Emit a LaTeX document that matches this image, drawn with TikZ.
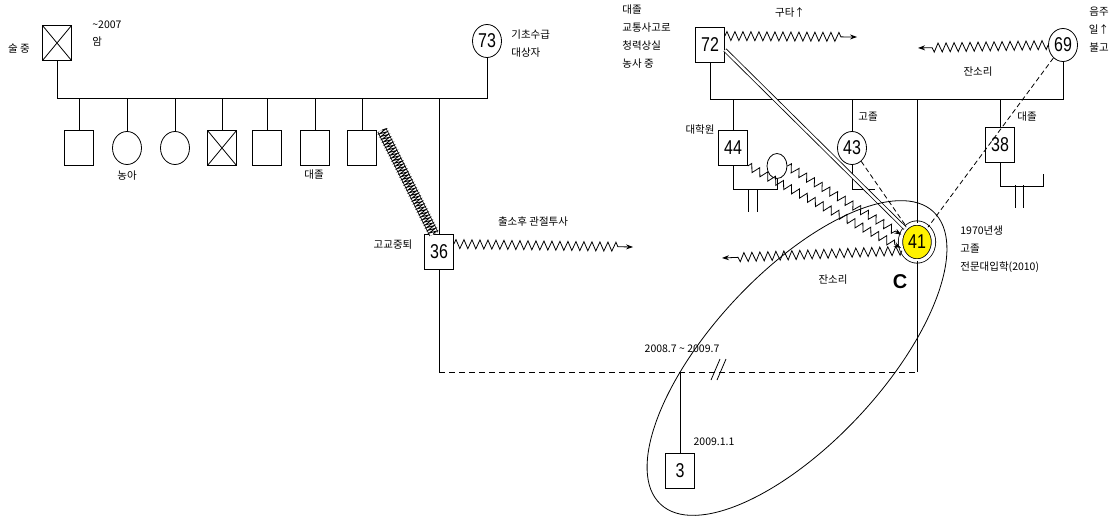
\documentclass[tikz,border=0pt]{standalone}
\usepackage{fontspec}
\setmainfont{Liberation Sans}
\newfontfamily\kr{Noto Sans CJK KR}
\newfontfamily\numfont[FakeStretch=0.8]{Liberation Sans}
\usetikzlibrary{positioning,arrows.meta,shapes.geometric,decorations.pathmorphing}

\tikzset{
  male/.style={draw, rectangle, fill=white, minimum width=29pt, minimum height=35pt, inner sep=0pt,
    font=\numfont\fontsize{20}{20}\selectfont},
  female/.style={draw, ellipse, fill=white, minimum width=29pt, minimum height=33pt, inner sep=0pt,
    font=\numfont\fontsize{20}{20}\selectfont},
  dead/.style={male, path picture={
    \draw (path picture bounding box.north west) -- (path picture bounding box.south east)
          (path picture bounding box.south west) -- (path picture bounding box.north east);}},
  index/.style={female, fill=yellow, double, double distance=3.5pt, minimum width=33pt, minimum height=38pt},
  lbl/.style={font=\kr\fontsize{10.5}{18}\selectfont, inner sep=0pt, align=left},
  wave/.style={decorate, decoration={zigzag, amplitude=4.5pt, segment length=8pt, post length=14pt},
    -{Stealth[length=7pt,width=5pt]}},
  band/.style={decorate, decoration={zigzag, amplitude=4pt, segment length=3pt}}
}

\begin{document}
\begin{tikzpicture}[x=1pt, y=-1pt, line width=0.8pt]
\useasboundingbox (0,0) rectangle (1116,517);

% husband's family
\node[dead] (gf) at (57,43) {};
\node[female] (gm) at (487,41) {73};
\coordinate (sib) at (0,98);
\draw (gf.south) -- (gf.south |- sib) -- (gm.south |- sib) -- (gm.south);
\foreach \x/\s [count=\i] in {79/male,127/female,175/female,222/dead,267/male,315/male,362/male}
  \node[\s] (c\i) at (\x,148) {};
\foreach \i in {1,...,7}
  \draw (c\i.north) -- (c\i.north |- sib);
\node[male] (p36) at (439,252) {36};
\draw (p36.north) -- (p36.north |- sib);
\draw[double distance=8pt] ([xshift=5pt]c7.north east) -- ([xshift=-5pt]p36.north);
\draw[band] ([xshift=5pt]c7.north east) -- ([xshift=-5pt]p36.north);
\coordinate (a36) at (633,247);
\draw[wave] ([yshift=8pt]p36.east) -- (a36);

\node[lbl] at (19,49) {술 중};
\node[lbl, anchor=west] at (92,25) {\textasciitilde2007};
\node[lbl, anchor=west] at (92,42) {암};
\node[lbl, anchor=west] at (511,35) {기초수급};
\node[lbl, anchor=west] at (511,53) {대상자};
\node[lbl] at (127,176) {농아};
\node[lbl] at (314,175) {대졸};
\node[lbl] at (393,245) {고교중퇴};
\node[lbl] at (533,222) {출소후 관절투사};

% wife's family
\node[male] (p72) at (710,45) {72};
\node[female] (p69) at (1063,45) {69};
\coordinate (fam) at (0,99);
\draw (p72.south) -- (p72.south |- fam) -- (p69.south |- fam) -- (p69.south);
\node[male] (p44) at (733,148) {44};
\node[female, minimum width=20pt, minimum height=25pt] (s44) at (777,166) {};
\node[female] (p43) at (852,148) {43};
\node[male] (p38) at (1000,145) {38};
\node[index] (p41) at (917,242) {41};
\foreach \n in {p44,p43,p38}
  \draw (\n.north) -- (\n.north |- fam);
\draw (p41.north |- fam) -- (p41.north);

\coordinate (k44) at (0,189);
\draw (p44.south) -- (p44.south |- k44) -- (s44.south |- k44) -- (s44.south);
\foreach \x in {748,757}
  \draw (\x,189) -- (\x,212);
\draw (p43.south) -- (p43.south |- k44) -- ++(23,0);
\draw (p38.south) -- ++(0,23) -- ++(43,0) -- ++(0,-12);
\foreach \x in {1015,1023}
  \draw (\x,185) -- (\x,208);

% relations
\draw[double, double distance=2.5pt] ([yshift=-5pt]p72.east) -- (p41.north west);
\draw[dash pattern=on 5pt off 3pt] (p43) -- (p41);
\draw[dash pattern=on 5pt off 3pt] (p69) -- (p41);
\draw[wave, decoration={amplitude=4pt, segment length=9pt, post length=6pt}] (p44.south east) -- (p41.200);
\draw[wave, decoration={amplitude=4pt, segment length=9pt, post length=6pt}] (s44.east) -- (p41.155);
\coordinate (a72) at (857,37);
\draw[wave] ([yshift=9pt]p72.east) -- (a72);
\coordinate (a69) at (918,48);
\draw[wave] (p69.west) -- (a69);
\coordinate (a41) at (722,258);
\draw[wave] (p41.210) -- (a41);

% marriage and child
\coordinate (m36) at (439,372);
\coordinate (m41) at (917,372);
\draw (p36.south) -- (m36);
\draw[dash pattern=on 6pt off 4pt] (m36) -- (m41);
\draw (p41.south) -- (m41);
\coordinate (dv) at (719,370);
\draw ([xshift=-8pt,yshift=-10pt]dv) -- ([xshift=1pt,yshift=11pt]dv);
\draw ([xshift=-2pt,yshift=-10pt]dv) -- ([xshift=7pt,yshift=11pt]dv);
\coordinate (ch3) at (680,372);
\node[male] (p3) at (680,471) {3};
\draw (ch3) -- (p3.north);
\draw[rotate around={47:(797,358)}] (797,358) ellipse (200 and 85);

\node[lbl, anchor=north west] at (622,4) {대졸\\교통사고로\\청력상실\\농사 중};
\node[lbl] at (790,12) {구타↑};
\node[lbl] at (978,72) {잔소리};
\node[lbl, align=center] at (1099,30) {음주\\일↑\\불고};
\node[lbl] at (700,130) {대학원};
\node[lbl] at (868,117) {고졸};
\node[lbl] at (1027,117) {대졸};
\node[font=\bfseries\fontsize{20}{20}\selectfont, inner sep=0pt] at (900,282) {C};
\node[lbl, anchor=north west] at (960,225) {1970년생\\고졸\\전문대입학(2010)};
\node[lbl] at (833,280) {잔소리};
\node[lbl] at (682,349) {2008.7 \textasciitilde{} 2009.7};
\node[lbl] at (714,442) {2009.1.1};
\end{tikzpicture}
\end{document}
